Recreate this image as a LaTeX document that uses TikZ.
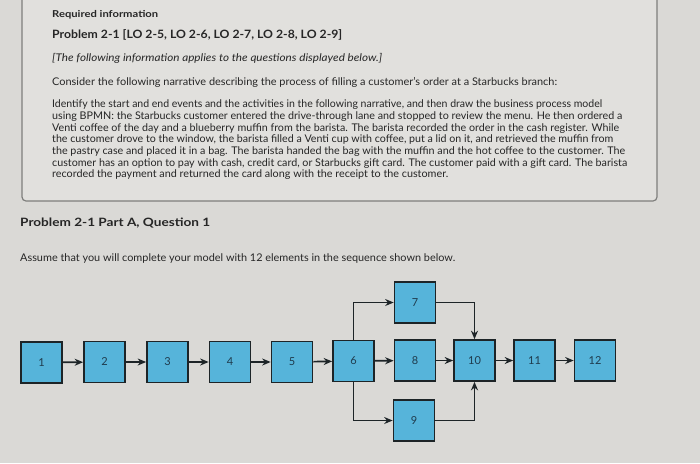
\documentclass[tikz,border=0pt]{standalone}
\usepackage{fontspec}
\setmainfont{Lato}
\usetikzlibrary{arrows.meta}
\definecolor{bg}{HTML}{DAD9D6}
\definecolor{panel}{HTML}{E1E0DD}
\definecolor{panelline}{HTML}{7E7E7C}
\definecolor{boxfill}{HTML}{56B4DA}
\definecolor{boxline}{HTML}{1D2427}
\definecolor{boxtxt}{HTML}{1F3B4D}
\definecolor{txt}{HTML}{262626}
\newcommand{\fitw}[2]{\resizebox{#1pt}{\height}{#2}}
\tikzset{
  x=1pt, y=-1pt,
  txtline/.style={anchor=base west, inner sep=0pt, text=txt, font=\fontsize{10.6}{12}\selectfont},
  stepbox/.style={draw=boxline, line width=1.7pt, fill=boxfill, minimum width=41pt, minimum height=41pt, inner sep=0pt, text=boxtxt, font=\fontsize{11}{13}\selectfont},
  flow/.style={draw=boxline, line width=1.7pt, -{Stealth[length=8.5pt,width=7pt]}}
}
\begin{document}
\begin{tikzpicture}
\useasboundingbox (0,0) rectangle (700,463);
\fill[bg] (0,0) rectangle (700,463);
\begin{scope}
\clip (0,0) rectangle (700,463);
\draw[panelline, line width=1.2pt, fill=panel, rounded corners=4pt] (22,-8) rectangle (657,201);
\end{scope}
% header texts
\node[txtline, font=\fontsize{9.5}{11}\selectfont\bfseries] (req) at (52,17) {\fitw{106}{Required information}};
\node[txtline, font=\fontsize{11.5}{13}\selectfont\bfseries] (prob) at (52,38.5) {\fitw{290}{Problem 2-1 [LO 2-5, LO 2-6, LO 2-7, LO 2-8, LO 2-9]}};
\node[txtline, font=\fontsize{10.6}{12}\selectfont\itshape] (info) at (52,61) {\fitw{330}{[The following information applies to the questions displayed below.]}};
\node[txtline] (cons) at (52,85) {\fitw{505}{Consider the following narrative describing the process of filling a customer's order at a Starbucks branch:}};
\node[txtline] (p1) at (52,107.5) {\fitw{550}{Identify the start and end events and the activities in the following narrative, and then draw the business process model}};
\node[txtline] (p2) at (52,119.5) {\fitw{570}{using BPMN: the Starbucks customer entered the drive-through lane and stopped to review the menu. He then ordered a}};
\node[txtline] (p3) at (52,131) {\fitw{567}{Venti coffee of the day and a blueberry muffin from the barista. The barista recorded the order in the cash register. While}};
\node[txtline] (p4) at (52,142.5) {\fitw{561}{the customer drove to the window, the barista filled a Venti cup with coffee, put a lid on it, and retrieved the muffin from}};
\node[txtline] (p5) at (52,154.5) {\fitw{573}{the pastry case and placed it in a bag. The barista handed the bag with the muffin and the hot coffee to the customer. The}};
\node[txtline] (p6) at (52,166) {\fitw{575}{customer has an option to pay with cash, credit card, or Starbucks gift card. The customer paid with a gift card. The barista}};
\node[txtline] (p7) at (52,177.5) {\fitw{396}{recorded the payment and returned the card along with the receipt to the customer.}};
% lower texts
\node[txtline, font=\fontsize{11.5}{13}\selectfont\bfseries] (parta) at (20,226.5) {\fitw{190}{Problem 2-1 Part A, Question 1}};
\node[txtline] (assume) at (20,261) {\fitw{435}{Assume that you will complete your model with 12 elements in the sequence shown below.}};
% boxes
\node[stepbox] (b1) at (41.5,362.5) {1};
\node[stepbox] (b2) at (104.5,362) {2};
\node[stepbox] (b3) at (167.5,362) {3};
\node[stepbox] (b4) at (230,362) {4};
\node[stepbox] (b5) at (292,362) {5};
\node[stepbox] (b6) at (353.5,361) {6};
\node[stepbox] (b7) at (415,302.5) {7};
\node[stepbox] (b8) at (415,360.5) {8};
\node[stepbox] (b9) at (414,420.5) {9};
\node[stepbox] (b10) at (474.5,360.5) {10};
\node[stepbox] (b11) at (534.5,360.5) {11};
\node[stepbox] (b12) at (595,360.5) {12};
% connectors
\draw[flow] (b1) -- (b2);
\draw[flow] (b2) -- (b3);
\draw[flow] (b3) -- (b4);
\draw[flow] (b4) -- (b5);
\draw[flow] (b5) -- (b6);
\draw[flow] (b6) -- (b8);
\draw[flow] (b8) -- (b10);
\draw[flow] (b10) -- (b11);
\draw[flow] (b11) -- (b12);
\draw[flow] (b6.north) |- (b7.west);
\draw[flow] (b6.south) |- (b9.west);
\draw[flow] (b7.east) -| (b10.north);
\draw[flow] (b9.east) -| (b10.south);
\end{tikzpicture}
\end{document}
